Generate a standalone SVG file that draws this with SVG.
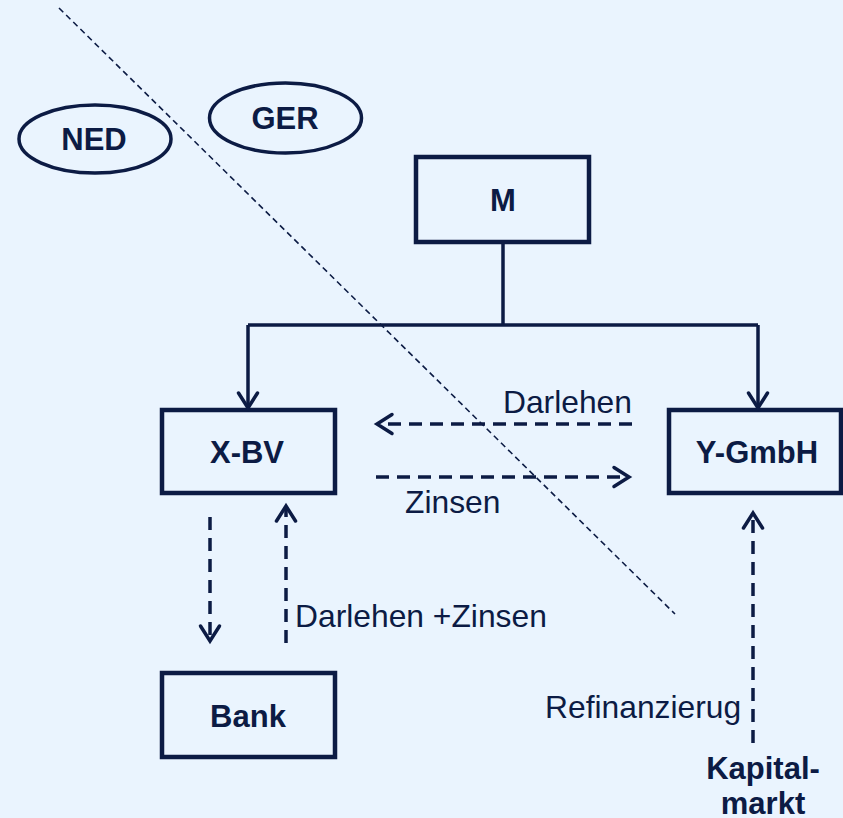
<svg xmlns="http://www.w3.org/2000/svg" width="843" height="818" viewBox="0 0 843 818">
<style>
.bg{fill:#EAF4FE}
.box{fill:none;stroke:#0C1B44;stroke-width:4.5}
.ell{fill:none;stroke:#0C1B44;stroke-width:3.5}
.b{font-family:"Liberation Sans",Arial,sans-serif;font-weight:bold;font-size:31px;fill:#0C1B44;text-anchor:middle}
.t{font-family:"Liberation Sans",Arial,sans-serif;font-size:31.8px;fill:#0C1B44}
.solid{fill:none;stroke:#0C1B44;stroke-width:3.5}
.dash{fill:none;stroke:#0C1B44;stroke-width:3.5;stroke-dasharray:13 8}
.diag{fill:none;stroke:#0C1B44;stroke-width:1.6;stroke-dasharray:6 4}
</style>
<defs>
<marker id="ah" markerUnits="userSpaceOnUse" orient="auto" refX="0" refY="0" markerWidth="30" markerHeight="30" viewBox="-20 -15 30 30" overflow="visible">
<path d="M-15,-9.5 L0,0 L-15,9.5" fill="none" stroke="#0C1B44" stroke-width="3.5" stroke-linecap="round" stroke-linejoin="miter"/>
</marker>
</defs>
<rect class="bg" x="0" y="0" width="843" height="818"/>
<g id="border">
<line class="diag" x1="59" y1="8" x2="675" y2="614"/>
</g>
<g id="NED">
<ellipse class="ell" cx="95" cy="139" rx="76" ry="34"/>
<text class="b" x="94" y="150">NED</text>
</g>
<g id="GER">
<ellipse class="ell" cx="285.5" cy="118" rx="76" ry="35"/>
<text class="b" x="285" y="129">GER</text>
</g>
<g id="M">
<rect class="box" x="416" y="157" width="173" height="85"/>
<text class="b" x="503" y="211">M</text>
</g>
<g id="XBV">
<rect class="box" x="162" y="410" width="173" height="83"/>
<text class="b" x="247" y="463">X-BV</text>
</g>
<g id="YGmbH">
<rect class="box" x="669" y="410" width="172" height="83"/>
<text class="b" x="757" y="463">Y-GmbH</text>
</g>
<g id="Bank">
<rect class="box" x="162" y="673" width="173" height="84"/>
<text class="b" x="248" y="727">Bank</text>
</g>
<g id="Kapitalmarkt">
<text class="b" x="763" y="779">Kapital-</text>
<text class="b" x="763" y="814">markt</text>
</g>
<g id="connectors">
<path class="solid" d="M503,242 V325"/>
<path class="solid" d="M248,325 H758"/>
<path class="solid" d="M248,325 V408" marker-end="url(#ah)"/>
<path class="solid" d="M758,325 V408" marker-end="url(#ah)"/>
<path class="dash" d="M632,424 H377" marker-end="url(#ah)"/>
<path class="dash" d="M376,477 H629" marker-end="url(#ah)"/>
<path class="dash" d="M210,517 V641" marker-end="url(#ah)"/>
<path class="dash" d="M286,643 V506" marker-end="url(#ah)"/>
<path class="dash" d="M753,743 V513" marker-end="url(#ah)"/>
</g>
<g id="labels">
<text class="t" x="632" y="413" text-anchor="end">Darlehen</text>
<text class="t" x="405" y="513">Zinsen</text>
<text class="t" x="295" y="627">Darlehen +Zinsen</text>
<text class="t" x="545" y="718">Refinanzierug</text>
</g>
</svg>
